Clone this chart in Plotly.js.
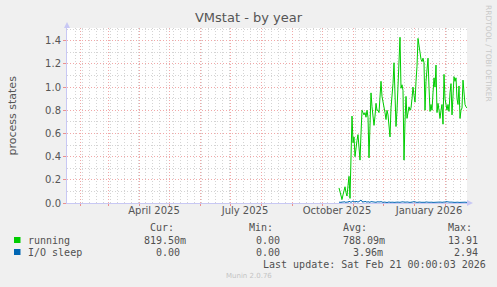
<!DOCTYPE html>
<html>
<head>
<meta charset="utf-8">
<script src="https://cdn.plot.ly/plotly-3.0.1.min.js"></script>
<style>
html,body{margin:0;padding:0;background:#F0F0F0;}
#chart{width:497px;height:287px;}
</style>
</head>
<body>
<div id="chart"></div>
<script>
// ---- data ----
const seriesNames = ['running', 'I/O sleep'];
const seriesColors = ['#00CC00', '#0066B3'];
const dataStart = '2025-10-18'; // first daily sample
const running = [
  0.13,0.10,0.06,0.03,0.07,0.10,0.14,0.09,0.06,0.15,
  0.23,0.04,0.30,0.75,0.52,0.57,0.40,0.50,0.54,0.59,
  0.45,0.37,0.60,0.80,0.78,0.76,0.78,0.74,0.80,0.74,
  0.39,0.70,0.95,0.83,0.76,0.67,0.75,0.86,0.80,0.80,
  0.78,0.95,1.05,0.92,0.88,0.84,0.78,0.72,0.80,0.76,
  0.68,0.57,0.82,0.90,1.03,1.21,0.95,0.66,0.80,1.06,
  1.25,1.43,0.99,1.02,0.97,0.37,0.70,0.92,0.73,0.78,
  0.83,0.80,0.82,0.90,1.00,0.93,0.87,1.05,1.18,1.42,
  1.35,1.28,1.24,1.22,1.25,1.21,0.80,1.05,1.20,1.25,
  1.00,0.79,0.85,0.80,0.95,1.08,1.00,1.19,0.78,0.86,
  0.80,0.73,0.80,0.85,0.68,1.11,0.90,0.85,0.80,0.85,
  0.79,0.95,1.03,0.76,0.90,1.09,1.05,1.08,0.90,0.85,
  1.01,0.73,0.80,0.82,1.06,0.95,0.85,0.83,0.82
];
const ioSleep = [
  0.005,0.008,0.004,0.010,0.006,0.012,0.008,0.005,0.009,0.007,
  0.015,0.010,0.006,0.011,0.018,0.012,0.009,0.014,0.010,0.008,
  0.012,0.016,0.026,0.012,0.010,0.009,0.014,0.008,0.007,0.011,
  0.009,0.006,0.012,0.010,0.008,0.007,0.009,0.006,0.010,0.008,
  0.006,0.009,0.012,0.007,0.005,0.008,0.010,0.006,0.004,0.007,
  0.009,0.006,0.008,0.011,0.007,0.005,0.006,0.009,0.012,0.008,
  0.006,0.005,0.007,0.010,0.008,0.006,0.004,0.007,0.009,0.006,
  0.008,0.005,0.007,0.006,0.009,0.012,0.008,0.006,0.005,0.007,
  0.010,0.008,0.006,0.005,0.008,0.007,0.006,0.009,0.005,0.007,
  0.006,0.008,0.010,0.007,0.005,0.006,0.008,0.007,0.005,0.009,
  0.006,0.008,0.007,0.005,0.006,0.009,0.007,0.012,0.010,0.006,
  0.005,0.007,0.008,0.006,0.009,0.007,0.005,0.006,0.008,0.007,
  0.005,0.006,0.008,0.009,0.006,0.005,0.007,0.006,0.005
];
const xTickVals = ['2025-04-16', '2025-07-16', '2025-10-16', '2026-01-16'];
const xTickText = ['April 2025', 'July 2025', 'October 2025', 'January 2026'];
const xRange = ['2025-01-19', '2026-02-23'];
const yRange = [0, 1.51];
const statHeaders = ['Cur:', 'Min:', 'Avg:', 'Max:'];
const statRunning = ['819.50m', '0.00', '788.09m', '13.91'];
const statIoSleep = ['0.00', '0.00', '3.96m', '2.94'];
const titleText = 'VMstat - by year';
const yTitle = 'process states';
const lastUpdate = 'Last update: Sat Feb 21 00:00:03 2026';
const munin = 'Munin 2.0.76';
const rrdCredit = 'RRDTOOL / TOBI OETIKER';

// ---- build ----
function dayDates(start, n) {
  const t0 = Date.parse(start + 'T00:00:00Z');
  const out = [];
  for (let i = 0; i < n; i++) out.push(new Date(t0 + i * 86400000).toISOString().slice(0, 10));
  return out;
}
const dates = dayDates(dataStart, running.length);

const L = 67, R = 467, T = 28, B = 203;
const px = x => (x - L) / (R - L);
const py = y => (B - y) / (B - T);

const mono = 'DejaVu Sans Mono, monospace';
const sans = 'DejaVu Sans, sans-serif';
const txtCol = '#505050';

const traces = [
  {x: dates, y: running, type: 'scatter', mode: 'lines', name: seriesNames[0],
   line: {color: seriesColors[0], width: 1}, xaxis: 'x', yaxis: 'y'},
  {x: dates, y: ioSleep, type: 'scatter', mode: 'lines', name: seriesNames[1],
   line: {color: seriesColors[1], width: 1}, xaxis: 'x2', yaxis: 'y'}
];

const ann = [];
function addText(text, x, y, opts) {
  ann.push(Object.assign({text: text, xref: 'paper', yref: 'paper', x: px(x), y: py(y),
    xanchor: 'left', yanchor: 'middle', showarrow: false,
    font: {family: mono, size: 10, color: txtCol}, borderpad: 0}, opts || {}));
}
const headerX = [149, 248, 342, 447];
statHeaders.forEach((h, i) => addText(h, headerX[i], 227));
addText(seriesNames[0], 26.5, 240);
addText(seriesNames[1], 26.5, 252);
const runX = [143, 255, 341.5, 447];
const ioX = [155, 255, 351.5, 453];
statRunning.forEach((v, i) => addText(v, runX[i], 240));
statIoSleep.forEach((v, i) => addText(v, ioX[i], 252));
addText(lastUpdate, 261.5, 264);
addText(munin, 248.5, 276, {xanchor: 'center', font: {family: sans, size: 7, color: '#c4c4c4'}});
addText(yTitle, 12, 115.5, {xanchor: 'center', textangle: -90, font: {family: sans, size: 11, color: '#555'}});
addText(rrdCredit, 489, 53, {xanchor: 'center', textangle: 90, font: {family: sans, size: 7.5, color: '#c8c8c8'}});

const axisCol = '#C8C8F4';
const shapes = [
  {type: 'rect', xref: 'paper', yref: 'paper', x0: px(14), x1: px(20.5), y0: py(243), y1: py(237),
   fillcolor: seriesColors[0], line: {width: 0}},
  {type: 'rect', xref: 'paper', yref: 'paper', x0: px(14), x1: px(20.5), y0: py(255), y1: py(249),
   fillcolor: seriesColors[1], line: {width: 0}},
  {type: 'path', xref: 'paper', yref: 'paper',
   path: `M ${px(64)} ${py(28)} L ${px(70)} ${py(28)} L ${px(67)} ${py(22)} Z`,
   fillcolor: axisCol, line: {width: 0}},
  {type: 'line', xref: 'paper', yref: 'paper', x0: 1, x1: px(468), y0: 0, y1: 0,
   line: {color: axisCol, width: 1}},
  {type: 'path', xref: 'paper', yref: 'paper',
   path: `M ${px(467)} ${py(200)} L ${px(467)} ${py(206)} L ${px(473)} ${py(203)} Z`,
   fillcolor: axisCol, line: {width: 0}}
];

const majorGrid = '#F2A8A8';
const minorGrid = '#D4D4D4';
const dotDash = '1px,2px';

const layout = {
  width: 497, height: 287,
  margin: {l: L, r: 497 - R, t: T, b: 287 - B, pad: 0},
  paper_bgcolor: '#F0F0F0', plot_bgcolor: '#FFFFFF',
  showlegend: false,
  font: {family: sans, color: '#555'},
  title: {text: titleText, x: 0.5, xref: 'container', xanchor: 'center',
          y: 1 - 17 / 287, yref: 'container', yanchor: 'middle',
          font: {family: sans, size: 13, color: '#555'}},
  xaxis: {type: 'date', range: xRange, tickmode: 'linear', tick0: '2025-02-01', dtick: 'M1',
    showticklabels: false, showgrid: true, gridcolor: majorGrid, griddash: dotDash, gridwidth: 1,
    ticks: 'outside', ticklen: 2, tickcolor: '#eb9090', tickwidth: 1,
    showline: true, linecolor: axisCol, zeroline: false, layer: 'below traces',
    minor: {tick0: '2025-01-20', dtick: 604800000, showgrid: true, gridcolor: minorGrid,
            griddash: dotDash, gridwidth: 1, ticks: ''}},
  xaxis2: {type: 'date', range: xRange, overlaying: 'x', anchor: 'y', side: 'bottom',
    tickmode: 'array', tickvals: xTickVals, ticktext: xTickText, showgrid: false,
    ticks: '', showline: false, zeroline: false,
    tickfont: {family: sans, size: 10, color: '#555'}},
  yaxis: {range: yRange, tick0: 0, dtick: 0.2, tickformat: '.1f',
    showgrid: true, gridcolor: majorGrid, griddash: dotDash, gridwidth: 1,
    ticks: 'outside', ticklen: 3, tickcolor: '#eb9090',
    showline: true, linecolor: axisCol, zeroline: false,
    tickfont: {family: sans, size: 10, color: '#555'},
    minor: {dtick: 0.1, showgrid: true, gridcolor: minorGrid, griddash: dotDash, gridwidth: 1, ticks: ''}},
  annotations: ann,
  shapes: shapes
};

Plotly.newPlot('chart', traces, layout, {displayModeBar: false, staticPlot: true});
</script>
</body>
</html>
